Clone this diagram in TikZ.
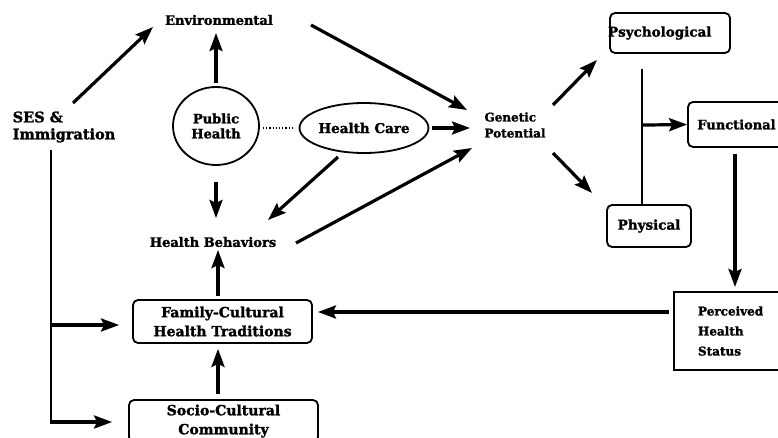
\documentclass[tikz,border=0pt]{standalone}
\usepackage{fontspec}
\setmainfont{DejaVu Serif}[BoldFeatures={FakeBold=1.6}]
\usetikzlibrary{arrows.meta,calc,shapes.geometric}
\begin{document}
\begin{tikzpicture}[x=1pt,y=-1pt,
  lbl/.style 2 args={font=\bfseries\fontsize{#1}{#2}\selectfont, align=center, inner sep=0pt},
  arr/.style={line width=3.2pt, -{Stealth[length=18pt,width=13pt,inset=3pt]}},
  thinline/.style={line width=2.2pt},
  rbox/.style={draw, line width=1.8pt, rounded corners=5pt},
  sbox/.style={draw, line width=1.8pt},
  oval/.style={draw, ellipse, line width=1.8pt, inner sep=0pt}]
\fill[white] (0,0) rectangle (778,438);
\useasboundingbox (0,0) rectangle (778,438);

% nodes
\node[lbl={13}{17}] (env) at (219,20) {Environmental};
\node[lbl={14.5}{17}, align=left] (ses) at (64,127) {SES \&\\Immigration};
\node[oval, minimum width=86pt, minimum height=78pt, lbl={13}{15}] (ph) at (216,126) {Public\\Health};
\node[oval, minimum width=122pt, minimum height=50pt, lbl={13.5}{15}] (hc) at (364,128) {Health Care};
\node[lbl={12}{16}, align=left] (gp) at (515,125) {Genetic\\Potential};
\node[lbl={13}{16}] (hb) at (213,242) {Health Behaviors};
\node[rbox, lbl={13.5}{16}, text width=120pt, inner xsep=0pt, align=left, minimum height=40pt] (psy) at (670,33) {\hspace*{-2pt}Psychological};
\node[rbox, lbl={13.5}{15}, minimum width=84pt, minimum height=42pt] (phy) at (649,226) {Physical};
\node[rbox, lbl={13}{16}, minimum width=97pt, minimum height=45pt] (fun) at (736.5,124.5) {Functional};
\node[sbox, lbl={12}{20}, text width=68pt, inner xsep=24pt, align=left, minimum height=78pt] (per) at (732,331) {Perceived\\Health\\Status};
\node[rbox, lbl={14}{19}, minimum width=179pt, minimum height=43pt] (fam) at (222.5,321.5) {Family-Cultural\\Health Traditions};
\node[rbox, lbl={14}{19}, minimum width=189pt, minimum height=42pt] (soc) at (223.5,421) {Socio-Cultural\\Community};

% connectors
\draw[arr] ($(ses)+(9,-24)$) -- ($(env)+(-66,7)$);
\draw[arr] ($(ph.north)+(0,-3)$) -- ($(env)+(-3,13)$);
\draw[arr] ($(env)+(92,5)$) -- ($(gp)+(-48,-15)$);
\draw[arr] ($(hc.east)+(3,0)$) -- ($(gp)+(-45,3)$);
\draw[arr] ($(hb)+(83,1)$) -- ($(gp)+(-43,23)$);
\draw[arr] ($(hc)+(-26,29)$) -- ($(hb)+(55,-22)$);
\draw[arr] ($(ph.south)+(0,16)$) -- ($(hb)+(3,-24)$);
\draw[line width=1.2pt, dotted] ($(ph.east)+(3,2)$) -- ($(hc.west)+(-5,0)$);
\draw[arr] ($(gp)+(38,-20)$) -- ($(psy)+(-73,27)$);
\draw[arr] ($(gp)+(38,28)$) -- ($(phy)+(-57,-33)$);
\draw[thinline] ($(psy)+(-28,36)$) -- coordinate[pos=0.415] (br) ($(phy.north)+(-7,0)$);
\draw[arr] (br) -- (fun.west);
\draw[arr] ($(fun)+(-1.5,29.5)$) -- ($(per)+(3,-44)$);
\draw[arr] ($(per.west)+(-4,-19)$) -- ($(fam.east)+(5,-9.5)$);
\draw[arr] ($(fam.north)+(-4.5,-3)$) -- ($(hb)+(5,8)$);
\draw[arr] ($(soc.north)+(-5.5,-5)$) -- ($(fam.south)+(-4.5,5)$);
\coordinate (sesb) at ($(ses)+(-13,295)$);
\draw[thinline] ($(ses)+(-13,23)$) -- (sesb);
\draw[arr] ($(ses)+(-13,198)$) -- ($(fam.west)+(-13,3.5)$);
\draw[arr] ($(sesb)+(-1.1,0)$) -- ($(soc.west)+(-16,1)$);
\end{tikzpicture}
\end{document}
